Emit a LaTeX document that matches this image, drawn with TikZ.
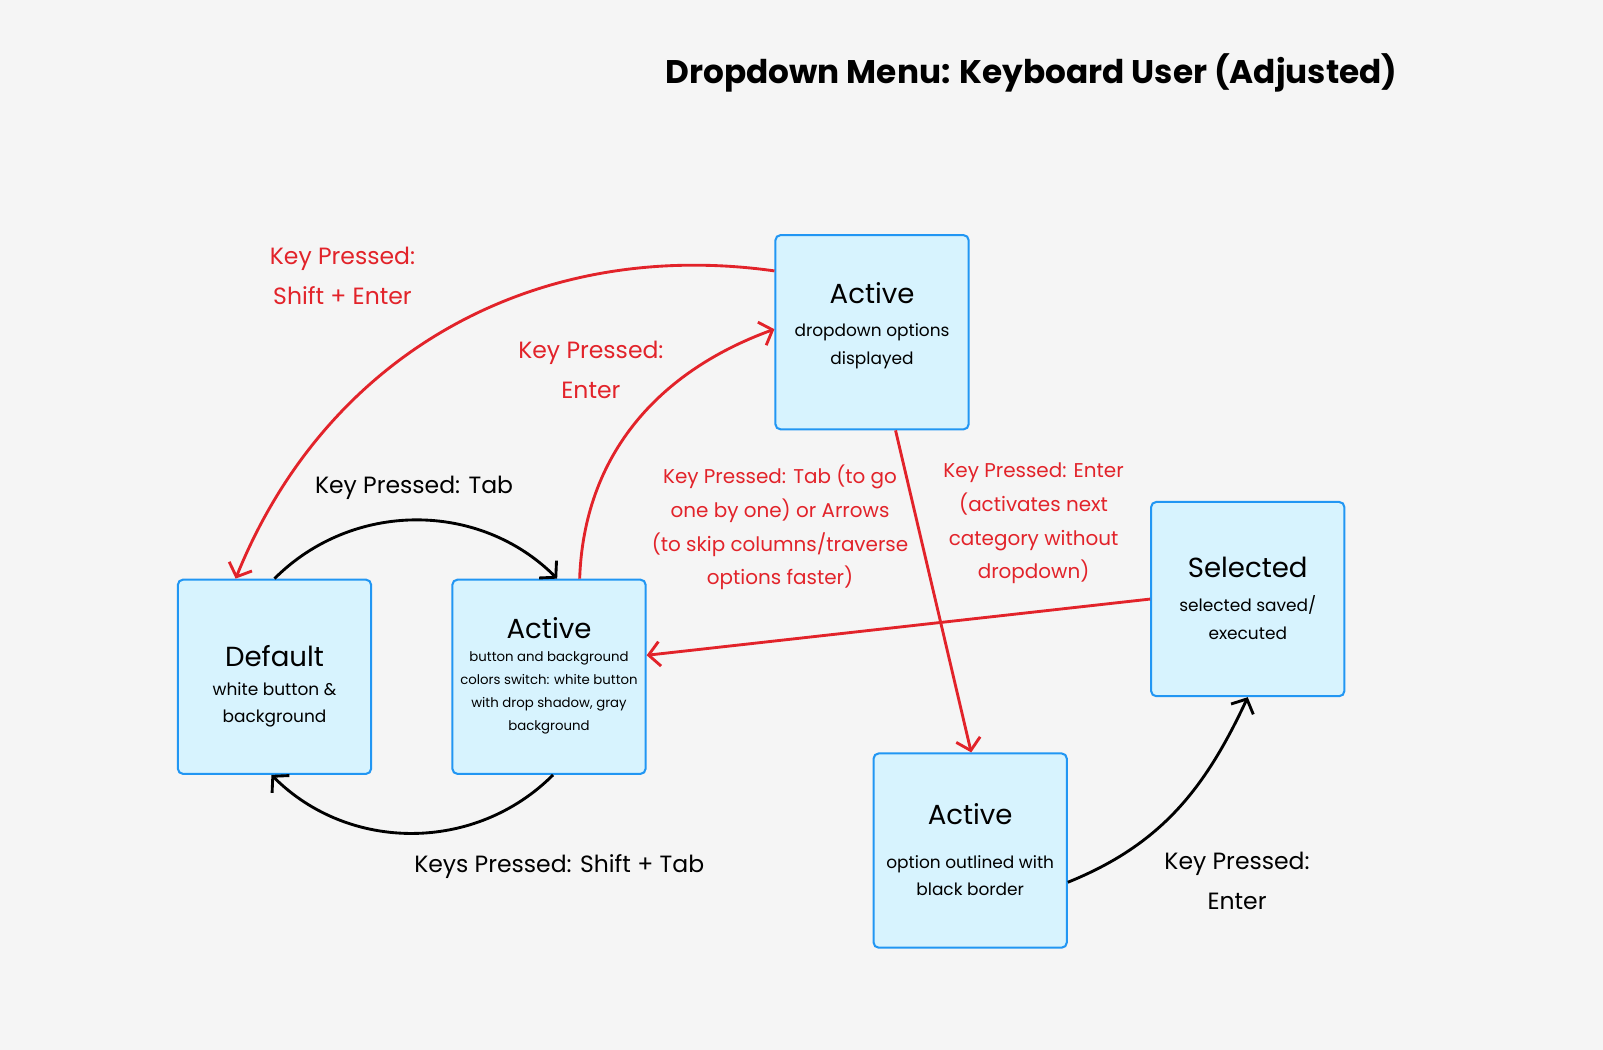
\documentclass[tikz,border=0pt]{standalone}
\usepackage{fontspec}
\setmainfont{Poppins}
\usetikzlibrary{arrows.meta}
\definecolor{bgGray}{HTML}{F5F5F5}
\definecolor{boxFill}{HTML}{D7F3FE}
\definecolor{boxLine}{HTML}{2196F3}
\definecolor{keyRed}{HTML}{E2232A}
\begin{document}
\begin{tikzpicture}[x=1pt,y=1pt,
  state/.style = {draw=boxLine, fill=boxFill, line width=2pt, rounded corners=5pt,
    minimum width=189pt, minimum height=190pt, inner sep=0pt},
  head/.style = {font=\fontsize{27}{32}\selectfont},
  desc/.style = {align=center, font=\fontsize{16.6}{27}\selectfont},
  tiny/.style = {align=center, font=\fontsize{13}{22.5}\selectfont},
  lbl/.style = {align=center, font=\fontsize{23}{39}\selectfont},
  small/.style = {align=center, font=\fontsize{19.5}{33}\selectfont, text=keyRed},
  move/.style = {line width=2.8pt, -{Straight Barb[length=11pt,width=24pt,line width=2.8pt]}},
  redmove/.style = {move, draw=keyRed}]

  \path[fill=bgGray] (0,23) rectangle (1568,1050);

  \node[font=\fontsize{32}{38}\selectfont\bfseries] (title) at (1009,979) {Dropdown Menu: Keyboard User (Adjusted)};

  % states
  \node[state] (dflt) at (268.5,388) {};
  \node[state] (btn) at (537,388) {};
  \node[state] (list) at (853,725) {};
  \node[state] (option) at (949,218) {};
  \node[state] (saved) at (1220.5,464) {};

  % state texts
  \node[head] (dfltHead) at ([yshift=20pt]dflt.center) {Default};
  \node[desc] (dfltDesc) at ([yshift=-27.5pt]dflt.center) {white button \&\\ background};
  \node[head] (btnHead) at ([yshift=48pt]btn.center) {Active};
  \node[tiny] (btnDesc) at ([yshift=-15.5pt]btn.center) {button and background\\ colors switch: white button\\ with drop shadow, gray\\ background};
  \node[head] (listHead) at ([yshift=38pt]list.center) {Active};
  \node[desc] (listDesc) at ([yshift=-13.5pt]list.center) {dropdown options\\ displayed};
  \node[head] (optionHead) at ([yshift=36pt]option.center) {Active};
  \node[desc] (optionDesc) at ([yshift=-24.5pt]option.center) {option outlined with\\ black border};
  \node[head] (savedHead) at ([yshift=31pt]saved.center) {Selected};
  \node[desc] (savedDesc) at ([yshift=-18pt]saved.center) {selected saved/\\ executed};

  % transitions
  \draw[move] (dflt.north) to[bend left=45] ([xshift=8pt]btn.north);
  \draw[move] ([xshift=4pt]btn.south) to[bend left=45] ([xshift=-3pt]dflt.south);
  \draw[redmove] ([xshift=30pt]btn.north) to[out=88,in=200] ([yshift=3pt]list.west);
  \draw[redmove] ([yshift=60pt]list.west) to[out=172,in=68] ([xshift=-38pt]dflt.north);
  \draw[redmove] ([xshift=23pt]list.south) -- ([xshift=1pt]option.north);
  \draw[redmove] (saved.west) -- ([yshift=21pt]btn.east);
  \draw[move] ([yshift=-31pt]option.east) to[out=22,in=245] (saved.south);

  % labels
  \node[lbl] (tab) at (405,573) {Key Pressed: Tab};
  \node[lbl] (shifttab) at (547,202) {Keys Pressed: Shift + Tab};
  \node[lbl, text=keyRed] (enter) at (578,688) {Key Pressed:\\ Enter};
  \node[lbl, text=keyRed] (shiftenter) at (335,780) {Key Pressed:\\ Shift + Enter};
  \node[small] (arrows) at (763,534) {Key Pressed: Tab (to go\\ one by one) or Arrows\\
    (to skip columns/traverse\\ options faster)};
  \node[small] (next) at (1011,538) {Key Pressed: Enter\\ (activates next\\ category without\\ dropdown)};
  \node[lbl] (select) at (1210,188) {Key Pressed:\\ Enter};
\end{tikzpicture}
\end{document}
